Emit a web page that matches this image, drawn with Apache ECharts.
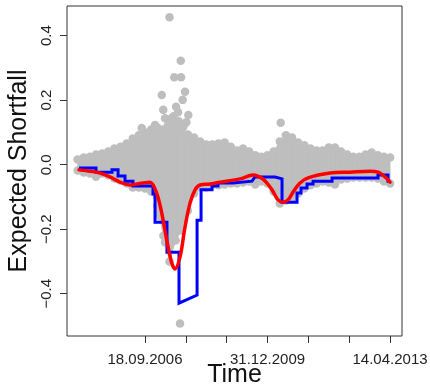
<!DOCTYPE html>
<html><head><meta charset="utf-8">
<script src="https://cdn.jsdelivr.net/npm/echarts@6/dist/echarts.min.js"></script>
<style>html,body{margin:0;padding:0;background:#fff}#c{width:430px;height:385px}</style>
</head><body><div id="c"></div>
<script>
// x values are days relative to 18.09.2006
const xTickDays = [0, 400, 800, 1200, 1600, 2000, 2400];
const xLabelDays = [0, 1200, 2400];
const xLabels = ['18.09.2006', '31.12.2009', '14.04.2013'];
const yTicks = [-0.4, -0.2, 0, 0.2, 0.4];
const yLabels = ['\u22120.4', '\u22120.2', '0.0', '0.2', '0.4'];

// gray return cloud: upper / lower envelope samples
const cloudDays = [-660,-600,-540,-480,-420,-360,-300,-240,-180,-120,-60,0,60,120,180,240,300,360,420,480,540,600,660,720,780,840,900,960,1020,1080,1140,1200,1260,1320,1380,1440,1500,1560,1620,1680,1740,1800,1860,1920,1980,2040,2100,2160,2220,2280,2340,2400];
const cloudUpper = [0.016,0.022,0.025,0.032,0.035,0.041,0.050,0.056,0.066,0.081,0.091,0.100,0.109,0.115,0.109,0.125,0.125,0.109,0.094,0.084,0.072,0.063,0.063,0.066,0.069,0.056,0.044,0.050,0.041,0.029,0.025,0.029,0.041,0.072,0.091,0.084,0.069,0.060,0.050,0.044,0.044,0.053,0.053,0.041,0.032,0.025,0.025,0.032,0.038,0.029,0.025,0.022];
const cloudLower = [-0.018,-0.024,-0.027,-0.037,-0.027,-0.033,-0.043,-0.049,-0.058,-0.071,-0.071,-0.074,-0.083,-0.127,-0.220,-0.300,-0.235,-0.204,-0.142,-0.089,-0.071,-0.071,-0.064,-0.064,-0.061,-0.058,-0.058,-0.055,-0.052,-0.061,-0.052,-0.058,-0.083,-0.120,-0.111,-0.105,-0.089,-0.074,-0.064,-0.058,-0.052,-0.055,-0.061,-0.046,-0.043,-0.040,-0.040,-0.040,-0.040,-0.043,-0.052,-0.058];
// isolated return points
const outlierDays =   [240,  350,  287,  353,  164,  392,  369,  304,  179,  424,  196,  262,  98,   376,  323,  225,  -32,  1329, 343,   280,  330,  250,  405,  127,   196,   147];
const outlierValues = [0.457,0.322,0.271,0.271,0.216,0.226,0.201,0.180,0.170,0.154,0.144,0.145,0.123,0.118,0.163,0.123,0.114,0.130,-0.492,0.150,0.135,0.128,0.132,-0.145,-0.240,-0.160];

// blue expected shortfall (stepwise)
const blueDays =   [-646,-480,-480,-323,-323,-264,-264,-196,-196,-118,-118,78,78,98,98,215,215,333,333,510,510,549,549,656,656,715,715,862,862,1048,1077,1273,1273,1342,1342,1489,1489,1528,1528,1587,1587,1646,1646,1832,1832,2282,2282,2380,2380,2400];
const blueValues = [-0.010,-0.010,-0.023,-0.023,-0.016,-0.016,-0.035,-0.035,-0.051,-0.051,-0.066,-0.066,-0.091,-0.091,-0.178,-0.178,-0.271,-0.271,-0.429,-0.404,-0.172,-0.172,-0.078,-0.078,-0.066,-0.066,-0.057,-0.057,-0.051,-0.051,-0.038,-0.038,-0.044,-0.044,-0.116,-0.116,-0.088,-0.088,-0.072,-0.072,-0.060,-0.060,-0.051,-0.051,-0.041,-0.041,-0.032,-0.032,-0.051,-0.051];

// red expected shortfall (smooth)
const redDays =   [-646,-539,-441,-343,-245,-147,-49,49,114,164,213,262,294,343,392,441,490,539,637,735,930,1058,1156,1244,1303,1352,1401,1450,1518,1597,1812,2008,2204,2282,2351,2400];
const redValues = [-0.016,-0.020,-0.026,-0.038,-0.054,-0.063,-0.058,-0.054,-0.088,-0.150,-0.234,-0.305,-0.323,-0.286,-0.193,-0.119,-0.078,-0.063,-0.060,-0.054,-0.044,-0.032,-0.045,-0.078,-0.109,-0.116,-0.109,-0.085,-0.057,-0.041,-0.026,-0.023,-0.020,-0.023,-0.038,-0.054];

const FONT = 'Liberation Sans, Arial, sans-serif';
const INK = '#333';
const GRAY = '#bebebe';

const pairs = (xs, ys) => xs.map((x, i) => [x, ys[i]]);
// band segments between neighbouring envelope samples
const bandData = cloudDays.slice(0, -1).map((d, i) =>
  [d, cloudUpper[i], cloudLower[i], cloudDays[i + 1], cloudUpper[i + 1], cloudLower[i + 1]]);
const dotData = pairs(cloudDays, cloudUpper).concat(pairs(cloudDays, cloudLower), pairs(outlierDays, outlierValues));

const chart = echarts.init(document.getElementById('c'), null, {renderer: 'canvas'});
chart.setOption({
  animation: false,
  backgroundColor: '#fff',
  grid: {left: 67, top: 6, right: 28, bottom: 49, show: true, borderColor: INK, borderWidth: 1,
         backgroundColor: 'transparent', outerBoundsMode: 'none', containLabel: false},
  xAxis: {
    type: 'value', min: -764, max: 2517,
    name: 'Time', nameLocation: 'middle', nameGap: 27, nameMoveOverlap: false,
    nameTextStyle: {fontFamily: FONT, fontSize: 25, color: '#111'},
    axisLine: {show: false, onZero: false},
    splitLine: {show: false},
    axisTick: {show: true, length: 7, customValues: xTickDays, lineStyle: {color: INK, width: 1}},
    axisLabel: {
      customValues: xLabelDays, margin: 16, fontFamily: FONT, fontSize: 15, color: '#222',
      formatter: v => { const i = xLabelDays.findIndex(d => Math.abs(d - v) < 1); return i >= 0 ? xLabels[i] : ''; }
    }
  },
  yAxis: {
    type: 'value', min: -0.531, max: 0.492,
    name: 'Expected Shortfall', nameLocation: 'middle', nameGap: 35, nameMoveOverlap: false,
    nameTextStyle: {fontFamily: FONT, fontSize: 25, color: '#111'},
    axisLine: {show: false, onZero: false},
    splitLine: {show: false},
    axisTick: {show: true, length: 7, customValues: yTicks, lineStyle: {color: INK, width: 1}},
    axisLabel: {
      customValues: yTicks, rotate: 90, margin: 13, fontFamily: FONT, fontSize: 15, color: '#222',
      formatter: v => { const i = yTicks.findIndex(t => Math.abs(t - v) < 1e-6); return i >= 0 ? yLabels[i] : ''; }
    }
  },
  series: [
    {type: 'custom', data: bandData, silent: true, clip: true,
     renderItem: (params, api) => {
       const a = api.coord([api.value(0), api.value(1)]);
       const b = api.coord([api.value(3), api.value(4)]);
       const c = api.coord([api.value(3), api.value(5)]);
       const d = api.coord([api.value(0), api.value(2)]);
       return {type: 'polygon', shape: {points: [a, b, c, d]},
               style: {fill: GRAY, stroke: GRAY, lineWidth: 0.8}};
     }},
    {type: 'scatter', data: dotData, symbol: 'circle', symbolSize: 8.5, silent: true,
     itemStyle: {color: GRAY, opacity: 1}},
    {type: 'line', data: pairs(blueDays, blueValues), showSymbol: false, silent: true,
     lineStyle: {width: 3, color: '#0000ff', join: 'miter'}},
    {type: 'line', data: pairs(redDays, redValues), smooth: 0.35, showSymbol: false, silent: true,
     lineStyle: {width: 3.5, color: '#ff0000', cap: 'round'}}
  ]
});
</script>
</body></html>
